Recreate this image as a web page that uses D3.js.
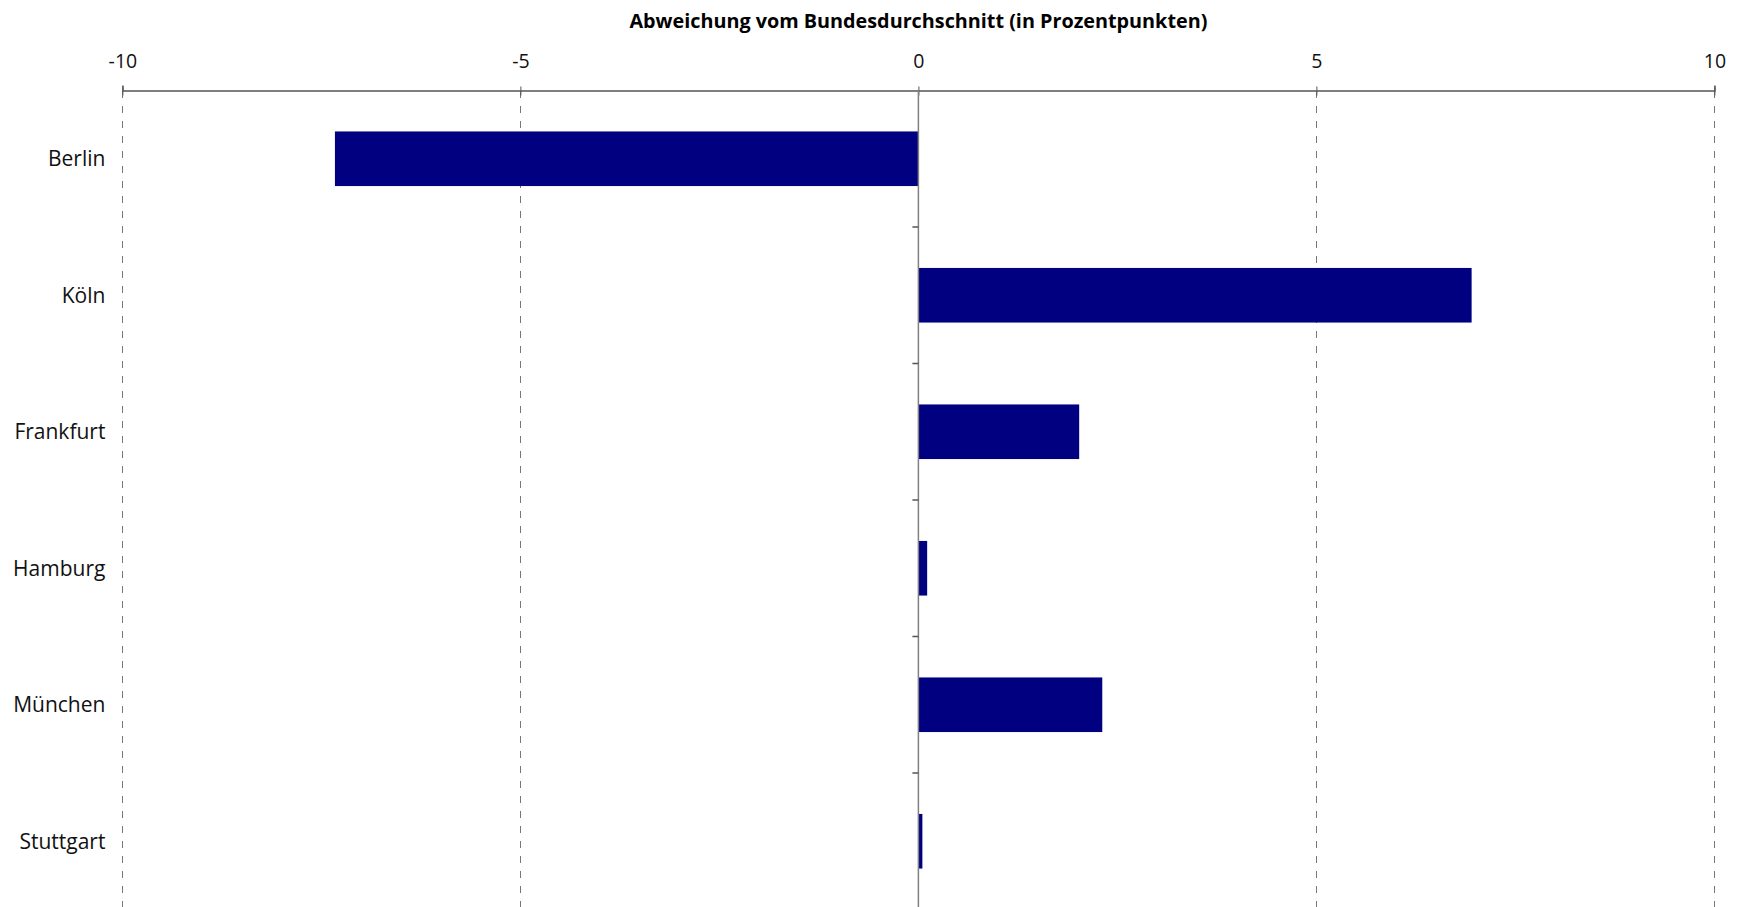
<!DOCTYPE html>
<html>
<head>
<meta charset="utf-8">
<script src="https://cdn.jsdelivr.net/npm/d3@7"></script>
<style>
  html, body { margin: 0; padding: 0; background: #fff; overflow: hidden; }
  svg { display: block; font-family: "Open Sans", sans-serif; }
</style>
</head>
<body>
<svg id="chart" width="1740" height="907"></svg>
<script>
// data
const cities = ["Berlin", "Köln", "Frankfurt", "Hamburg", "München", "Stuttgart"];
const deviation = [-7.33, 6.95, 2.02, 0.11, 2.31, 0.05];
const xTicks = [-10, -5, 0, 5, 10];
const AXIS_TITLE = "Abweichung vom Bundesdurchschnitt (in Prozentpunkten)";

const BAR_COLOR = "#000080";
const GRID_COLOR = "#777";

const svg = d3.select("#chart");
const margin = { top: 90.5, right: 25.6, left: 122.4 };
const width = 1740;
const plotBottom = 909.5; // plot runs off the bottom edge like the reference

const x = d3.scaleLinear()
  .domain([-10, 10])
  .range([margin.left, width - margin.right]);

const y = d3.scaleBand()
  .domain(cities)
  .range([margin.top, plotBottom])
  .paddingInner(0.6)
  .paddingOuter(0.3);

const rows = cities.map((c, i) => ({ city: c, value: deviation[i] }));

// dashed vertical gridlines (not at zero, the category axis sits there)
svg.append("g")
  .selectAll("line")
  .data(xTicks.filter(t => t !== 0))
  .join("line")
  .attr("x1", d => x(d)).attr("x2", d => x(d))
  .attr("y1", margin.top).attr("y2", plotBottom)
  .attr("stroke", GRID_COLOR)
  .attr("stroke-width", 1)
  .attr("stroke-dasharray", "7,8")
  .attr("shape-rendering", "crispEdges");

// bars
svg.append("g")
  .selectAll("rect")
  .data(rows)
  .join("rect")
  .attr("x", d => x(Math.min(0, d.value)))
  .attr("width", d => Math.abs(x(d.value) - x(0)))
  .attr("y", d => y(d.city))
  .attr("height", y.bandwidth())
  .attr("fill", BAR_COLOR);

// top value axis
const xAxis = svg.append("g")
  .attr("transform", `translate(0,${margin.top})`)
  .call(d3.axisTop(x).tickValues(xTicks).tickSize(5).tickPadding(18).tickFormat(d3.format("d")));
xAxis.select(".domain").attr("stroke", "#555").attr("stroke-width", 1.5);
xAxis.selectAll(".tick line")
  .attr("y2", -4).attr("y1", 5)
  .attr("stroke", "#555");
xAxis.selectAll(".tick text")
  .attr("font-size", 19.5)
  .attr("font-family", "Open Sans, sans-serif")
  .attr("fill", "#111")
  .text(d => d < 0 ? "-" + Math.abs(d) : d);

// category axis at zero, ticks at band boundaries
const step = y.step();
const boundaries = cities.slice(1).map(c => y(c) - (step - y.bandwidth()) / 2);
svg.append("line")
  .attr("x1", x(0)).attr("x2", x(0))
  .attr("y1", margin.top).attr("y2", plotBottom)
  .attr("stroke", "#808080")
  .attr("stroke-width", 1.5);
svg.append("g")
  .selectAll("line")
  .data(boundaries)
  .join("line")
  .attr("x1", x(0) - 6).attr("x2", x(0))
  .attr("y1", d => d).attr("y2", d => d)
  .attr("stroke", "#555")
  .attr("stroke-width", 1.5);

// category labels at the left of the plot
svg.append("g")
  .selectAll("text")
  .data(cities)
  .join("text")
  .attr("x", margin.left - 17)
  .attr("y", d => y(d) + y.bandwidth() / 2)
  .attr("dy", "0.35em")
  .attr("text-anchor", "end")
  .attr("font-size", 21)
  .attr("fill", "#111")
  .text(d => d);

// axis title
svg.append("text")
  .attr("x", x(0))
  .attr("y", 28)
  .attr("text-anchor", "middle")
  .attr("font-size", 19.8)
  .attr("font-weight", "bold")
  .attr("fill", "#000")
  .text(AXIS_TITLE);
</script>
</body>
</html>
